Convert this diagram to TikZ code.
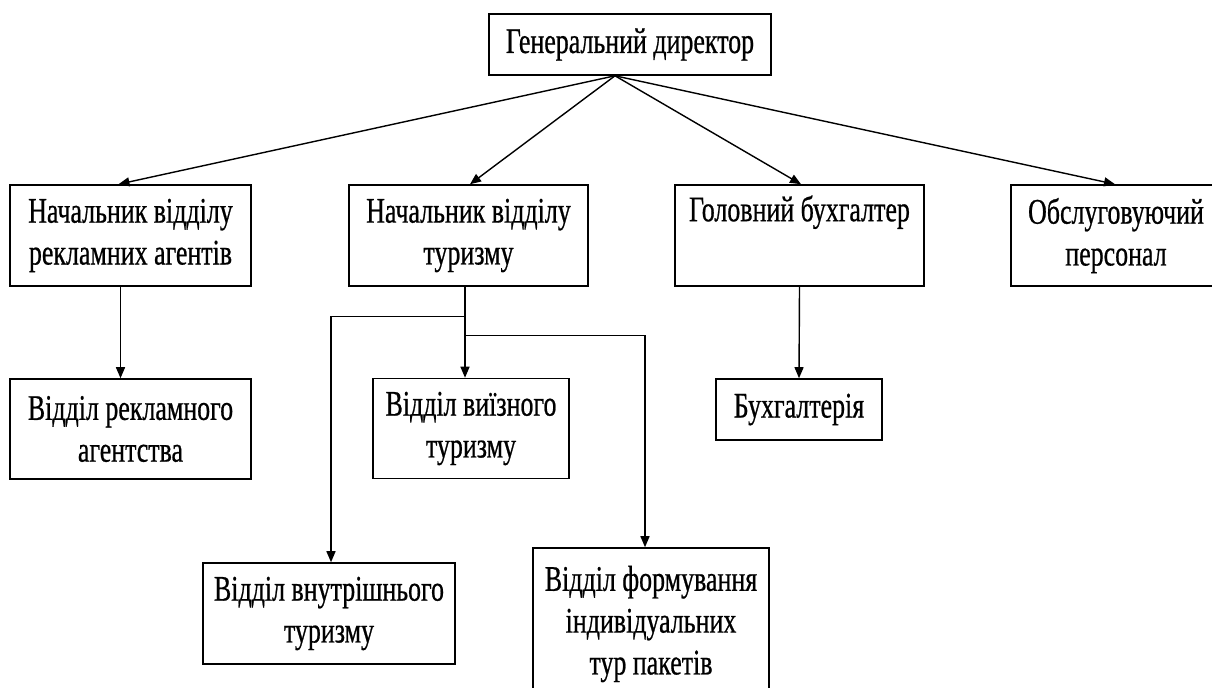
\documentclass[tikz,border=0pt]{standalone}
\usepackage{fontspec}
\setmainfont{Liberation Serif}[FakeStretch=0.72, FakeBold=0.6]
\usepackage{tikz}
\usetikzlibrary{arrows.meta, positioning, calc}
\tikzstyle{arrow} = [line width=0.8pt,-{Triangle[length=0.22cm,width=0.18cm]}]
\tikzstyle{post} = [rectangle, draw=black, line width=0.9pt, align=center, inner sep=0pt, font=\fontsize{20.5}{23.8}\selectfont]

\begin{document}
\begin{tikzpicture}[x=0.02cm, y=-0.02cm]
\useasboundingbox (0,0) rectangle (1212,687);
%----------------------------------------------------------------------------
% Placement of chart nodes
\node (genDir) [post, minimum width=5.64cm, minimum height=1.22cm] at (630,44.5) {Генеральний директор};

\node (headAdv) [post, minimum width=4.82cm, minimum height=2.02cm] at (130.5,235.5) {Начальник відділу\\рекламних агентів};
\node (headTour) [post, minimum width=4.78cm, minimum height=2.02cm] at (468.5,235.5) {Начальник відділу\\туризму};
\node (chiefAcc) [post, minimum width=4.98cm, minimum height=2.02cm] at (799.5,235.5) {Головний бухгалтер\\\strut};
\node (service) [post, minimum width=4.2cm, minimum height=2.02cm] at (1116,235.5) {Обслуговуючий\\персонал};

\node (advDept) [post, minimum width=4.82cm, minimum height=2cm] at (130.5,429) {Відділ рекламного\\агентства};
\node (outTour) [post, minimum width=3.92cm, minimum height=2cm] at (471,428.5) {Відділ виїзного\\туризму};
\node (accDept) [post, minimum width=3.32cm, minimum height=1.22cm] at (799,409.5) {Бухгалтерія};

\node (inTour) [post, minimum width=5.04cm, minimum height=2.02cm] at (329,613.5) {Відділ внутрішнього\\туризму};
\node (indTour) [post, minimum width=4.72cm, minimum height=3.04cm] at (651,624) {Відділ формування\\індивідуальних\\тур пакетів};

%----------------------------------------------------------------------------
% Lines from the director
\coordinate (hub) at ($(genDir.south)+(-15,0)$);
\draw [arrow] (hub) -- ($(headAdv.north)+(-12,0)$);
\draw [arrow] (hub) -- ($(headTour.north)+(1.5,0)$);
\draw [arrow] (hub) -- ($(chiefAcc.north)+(1.5,0)$);
\draw [arrow] (hub) -- ($(service.north)+(-1,0)$);

%----------------------------------------------------------------------------
% Lines to departments
\draw [arrow] ($(headAdv.south)+(-10,0)$) coordinate (advDown) -- (advDown |- advDept.north);
\draw [arrow] (chiefAcc.south) -- (accDept.north);

\coordinate (tourDown) at ($(headTour.south)+(-3.5,0)$);
\coordinate (splitL) at ($(tourDown)+(0,30)$);
\coordinate (splitR) at ($(tourDown)+(0,49)$);
\draw [arrow] (tourDown) -- (tourDown |- outTour.north);
\draw [arrow] (splitL) -| ($(inTour.north)+(2,0)$);
\draw [arrow] (splitR) -| ($(indTour.north)+(-6,0)$);

\end{tikzpicture}
\end{document}
